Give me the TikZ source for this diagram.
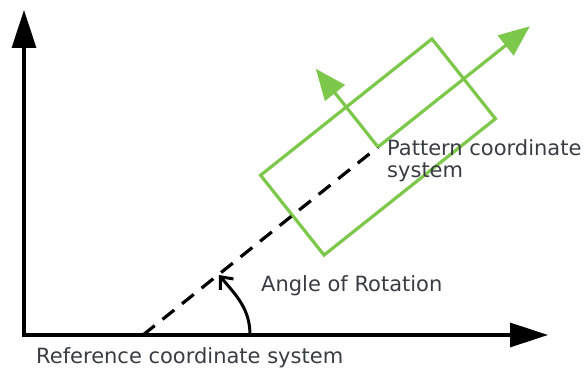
\documentclass[tikz,border=0pt]{standalone}
\usepackage{fontspec}
\setmainfont{DejaVu Sans}
\usetikzlibrary{arrows.meta,positioning}
\definecolor{patterngreen}{RGB}{125,200,75}
\definecolor{txtgray}{RGB}{58,60,68}

\begin{document}
\begin{tikzpicture}[
    x=1pt, y=1pt,
    axis/.style={line width=3.2pt, line cap=rect, -{Triangle[length=38pt,width=24pt]}},
    gaxis/.style={line width=3.2pt, draw=patterngreen, -{Triangle[length=31pt,width=25pt]}},
    patbox/.style={draw=patterngreen, line width=3.2pt, minimum width=219pt, minimum height=102pt, inner sep=0pt},
    dashline/.style={line width=3.2pt, dash pattern=on 15pt off 10pt},
    rotarc/.style={line width=3pt, -{Straight Barb[length=10pt,width=17pt]}},
    txt/.style={text=txtgray, font=\fontsize{21}{22}\selectfont, inner sep=0pt},
]
    \useasboundingbox (0,0) rectangle (587,369);

    % reference axes
    \coordinate (origin) at (24,34);
    \coordinate (ytip) at (24,359);
    \coordinate (xtip) at (548,34);
    \draw[axis] (origin) -- (ytip);
    \draw[axis] (origin) -- (xtip);

    % rotated pattern system
    \coordinate (rotstart) at (143,34);
    \coordinate (porigin) at (378,222);
    \node[patbox, rotate=38.5] (pbox) at (porigin) {};
    \path (porigin) ++(38.5:194) coordinate (pxtip);
    \path (porigin) ++(128.5:100) coordinate (pytip);
    \draw[dashline] (rotstart) -- (porigin);
    \draw[gaxis] (porigin) -- (pxtip);
    \draw[gaxis] (porigin) -- (pytip);

    % angle
    \coordinate (arcstart) at (250,34);
    \coordinate (arcend) at (219,94);
    \draw[rotarc] (arcstart) to[out=90,in=-50] (arcend);

    \node[txt, anchor=base west] (angle) at (261,77) {Angle of Rotation};
    \node[txt, anchor=base west] (refcs) at (36,5) {Reference coordinate system};
    \node[txt, anchor=north west, align=left] (patcs) at (387,230) {Pattern coordinate\\system};
\end{tikzpicture}
\end{document}
